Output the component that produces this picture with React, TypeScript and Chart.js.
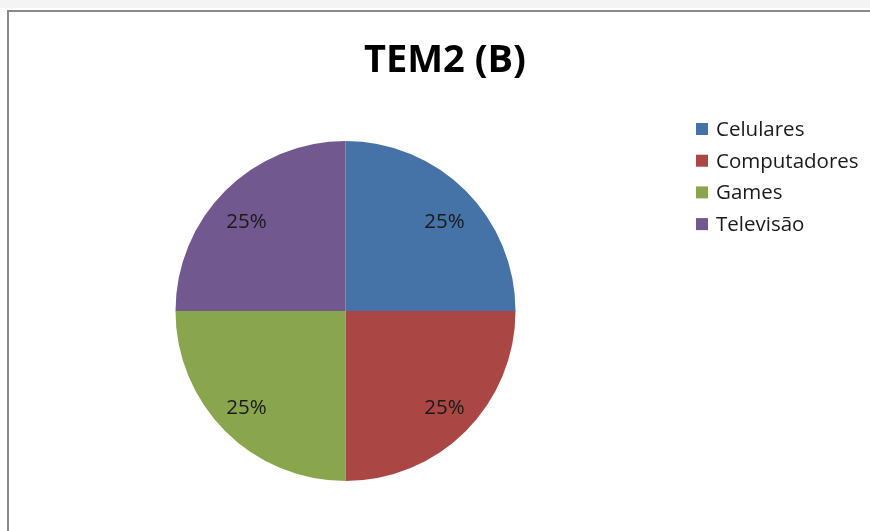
import React, { useEffect, useRef } from "react";
import { Chart, registerables } from "chart.js";

Chart.register(...registerables);

const chartTitle = "TEM2 (B)";
const categories = ["Celulares", "Computadores", "Games", "Televisão"];
const values = [25, 25, 25, 25];
const colors = ["#4572A7", "#AA4643", "#89A54E", "#71588F"];

const FONT = "'Open Sans', 'Noto Sans', sans-serif";

const overlayPlugin = {
  id: "overlay",
  afterDraw(chart: any) {
    const ctx = chart.ctx as CanvasRenderingContext2D;
    const meta = chart.getDatasetMeta(0);
    const data = chart.data.datasets[0].data as number[];
    const total = data.reduce((a, b) => a + b, 0);
    ctx.save();
    // slice labels
    ctx.font = `20.5px ${FONT}`;
    ctx.fillStyle = "#1a1a1a";
    ctx.textAlign = "center";
    ctx.textBaseline = "middle";
    meta.data.forEach((arc: any, i: number) => {
      const p = arc.getProps(["x", "y", "startAngle", "endAngle", "outerRadius"], true);
      const mid = (p.startAngle + p.endAngle) / 2;
      const r = p.outerRadius * 0.8;
      const pct = Math.round((data[i] / total) * 100) + "%";
      ctx.fillText(pct, p.x + Math.cos(mid) * r * 1.03, p.y + Math.sin(mid) * r * 0.97 + 4);
    });
    // title
    ctx.font = `bold 38px ${FONT}`;
    ctx.fillStyle = "#000";
    ctx.textAlign = "center";
    ctx.textBaseline = "alphabetic";
    ctx.fillText(chartTitle, 445, 72);
    // legend
    const labels = chart.data.labels as string[];
    ctx.font = `20.5px ${FONT}`;
    ctx.textAlign = "left";
    ctx.textBaseline = "middle";
    labels.forEach((lab, i) => {
      const y = 129 + i * 31.7;
      ctx.fillStyle = colors[i];
      ctx.fillRect(696, y - 6, 12, 12);
      ctx.fillStyle = "#1a1a1a";
      ctx.fillText(lab, 716, y + 1);
    });
    ctx.restore();
  },
};

export default function App() {
  const ref = useRef<HTMLCanvasElement>(null);
  useEffect(() => {
    if (!ref.current) return;
    const chart = new Chart(ref.current, {
      type: "pie",
      data: {
        labels: categories,
        datasets: [
          {
            data: values,
            backgroundColor: colors,
            borderWidth: 0,
          },
        ],
      },
      options: {
        responsive: false,
        animation: false,
        devicePixelRatio: 1,
        layout: { padding: { left: 175, right: 354, top: 141, bottom: 50 } },
        plugins: {
          legend: { display: false },
          tooltip: { enabled: false },
          title: { display: false },
        },
      },
      plugins: [overlayPlugin],
    });
    return () => chart.destroy();
  }, []);
  return (
    <div
      style={{
        position: "fixed",
        left: 0,
        top: 0,
        width: 870,
        height: 531,
        background: "#fff",
        overflow: "hidden",
      }}
    >
      <div
        style={{
          position: "absolute",
          left: 0,
          top: 0,
          width: 870,
          height: 8,
          background: "#f4f4f4",
        }}
      />
      <div
        style={{
          position: "absolute",
          left: 7,
          top: 10,
          width: 900,
          height: 600,
          borderTop: "2px solid #8a8a8a",
          borderLeft: "2px solid #8a8a8a",
          boxSizing: "border-box",
        }}
      />
      <canvas
        ref={ref}
        width={870}
        height={531}
        style={{ position: "absolute", left: 0, top: 0, width: 870, height: 531 }}
      />
    </div>
  );
}
